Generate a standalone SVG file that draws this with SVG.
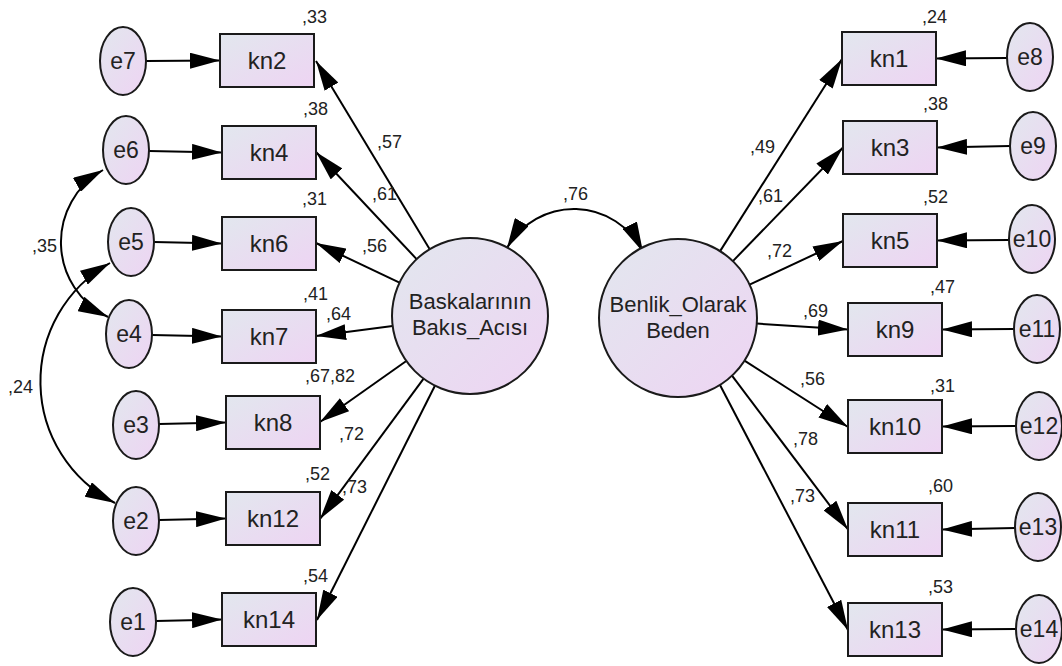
<svg xmlns="http://www.w3.org/2000/svg" width="1062" height="666" viewBox="0 0 1062 666">
<defs>
<linearGradient id="g" x1="0" y1="0" x2="1" y2="1">
<stop offset="0" stop-color="#e2e7ee"/>
<stop offset="1" stop-color="#eed4f3"/>
</linearGradient>
<marker id="ah" markerUnits="userSpaceOnUse" markerWidth="30" markerHeight="16" refX="30" refY="8" orient="auto-start-reverse" viewBox="0 0 30 16">
<path d="M0,0 L30,8 L0,16 z" fill="#000"/>
</marker>
</defs>
<style>
.n rect, .n ellipse { fill: url(#g); stroke: #1a1a1a; stroke-width: 2; }
.t { font-family: "Liberation Sans", Arial, sans-serif; font-size: 24px; fill: #222; text-anchor: middle; }
.te { font-family: "Liberation Sans", Arial, sans-serif; font-size: 23px; fill: #222; text-anchor: middle; }
.tl { font-family: "Liberation Sans", Arial, sans-serif; font-size: 22px; fill: #222; text-anchor: middle; }
.lab { font-family: "Liberation Sans", Arial, sans-serif; font-size: 18px; fill: #222; }
#connectors line, #connectors path { stroke: #000; stroke-width: 2; fill: none; marker-end: url(#ah); }
#connectors path.both { marker-start: url(#ah); }
</style>
<rect width="1062" height="666" fill="#fff"/>

<g id="connectors">
<!-- left error arrows -->
<line x1="146" y1="61" x2="220" y2="60.5"/>
<line x1="149" y1="151" x2="222" y2="152.5"/>
<line x1="154" y1="242" x2="222" y2="243.5"/>
<line x1="152" y1="335" x2="222" y2="336.5"/>
<line x1="159" y1="424" x2="226" y2="422.5"/>
<line x1="159" y1="520" x2="226" y2="518.5"/>
<line x1="156" y1="621" x2="222" y2="619.5"/>
<!-- left loadings -->
<line x1="429.7" y1="249.2" x2="316" y2="61"/>
<line x1="416.6" y1="259.1" x2="316" y2="152"/>
<line x1="399.5" y1="282.6" x2="316" y2="243"/>
<line x1="392.6" y1="326" x2="316" y2="336"/>
<line x1="406.3" y1="361" x2="320" y2="422"/>
<line x1="423.6" y1="378.7" x2="320" y2="519"/>
<line x1="434.9" y1="385.7" x2="317" y2="620"/>
<!-- right loadings -->
<line x1="720.1" y1="251.1" x2="842" y2="59"/>
<line x1="732.9" y1="261.1" x2="843" y2="147.5"/>
<line x1="749.6" y1="284.6" x2="843" y2="241"/>
<line x1="756.8" y1="323.6" x2="848" y2="329.5"/>
<line x1="744.5" y1="360.6" x2="848" y2="427"/>
<line x1="732" y1="375.7" x2="848" y2="529.5"/>
<line x1="720" y1="385" x2="848" y2="630"/>
<!-- right error arrows -->
<line x1="1007" y1="58" x2="936" y2="58.5"/>
<line x1="1010" y1="146" x2="937" y2="147.5"/>
<line x1="1009" y1="240" x2="937" y2="240.5"/>
<line x1="1014" y1="329" x2="942" y2="329.5"/>
<line x1="1016" y1="426" x2="942" y2="426.5"/>
<line x1="1015" y1="528" x2="942" y2="529.5"/>
<line x1="1016" y1="629" x2="942" y2="629.5"/>
<!-- covariances -->
<path class="both" d="M 103 170 A 83 83 0 0 0 108 317"/>
<path class="both" d="M 110 263 A 136 136 0 0 0 115 503"/>
<path class="both" d="M 507 248 A 77 77 0 0 1 643 252"/>
</g>

<g id="Baskalarinin" class="n"><ellipse cx="470" cy="316" rx="78" ry="78"/><text class="tl" x="470" y="309">Baskalarının</text><text class="tl" x="470" y="335">Bakıs_Acısı</text></g>
<g id="Benlik" class="n"><ellipse cx="678" cy="318" rx="79" ry="79"/><text class="tl" x="678" y="312">Benlik_Olarak</text><text class="tl" x="678" y="338">Beden</text></g>

<g id="kn2" class="n"><rect x="220" y="34" width="94" height="53"/><text class="t" x="267" y="69">kn2</text></g>
<g id="kn4" class="n"><rect x="222" y="126" width="94" height="53"/><text class="t" x="269" y="161">kn4</text></g>
<g id="kn6" class="n"><rect x="222" y="217" width="94" height="53"/><text class="t" x="269" y="252">kn6</text></g>
<g id="kn7" class="n"><rect x="222" y="310" width="94" height="53"/><text class="t" x="269" y="345">kn7</text></g>
<g id="kn8" class="n"><rect x="226" y="396" width="94" height="53"/><text class="t" x="273" y="431">kn8</text></g>
<g id="kn12" class="n"><rect x="226" y="492" width="94" height="53"/><text class="t" x="273" y="527">kn12</text></g>
<g id="kn14" class="n"><rect x="222" y="593" width="94" height="53"/><text class="t" x="269" y="628">kn14</text></g>

<g id="kn1" class="n"><rect x="842" y="32" width="94" height="53"/><text class="t" x="889" y="67">kn1</text></g>
<g id="kn3" class="n"><rect x="843" y="121" width="94" height="53"/><text class="t" x="890" y="156">kn3</text></g>
<g id="kn5" class="n"><rect x="843" y="214" width="94" height="53"/><text class="t" x="890" y="249">kn5</text></g>
<g id="kn9" class="n"><rect x="848" y="303" width="94" height="53"/><text class="t" x="895" y="338">kn9</text></g>
<g id="kn10" class="n"><rect x="848" y="400" width="94" height="53"/><text class="t" x="895" y="435">kn10</text></g>
<g id="kn11" class="n"><rect x="848" y="503" width="94" height="53"/><text class="t" x="895" y="538">kn11</text></g>
<g id="kn13" class="n"><rect x="848" y="603" width="94" height="53"/><text class="t" x="895" y="638">kn13</text></g>

<g id="e7" class="n"><ellipse cx="123" cy="61" rx="23" ry="34"/><text class="te" x="123" y="69">e7</text></g>
<g id="e6" class="n"><ellipse cx="126" cy="150" rx="23" ry="34"/><text class="te" x="126" y="158">e6</text></g>
<g id="e5" class="n"><ellipse cx="131" cy="242" rx="23" ry="34"/><text class="te" x="131" y="250">e5</text></g>
<g id="e4" class="n"><ellipse cx="129" cy="334" rx="23" ry="34"/><text class="te" x="129" y="342">e4</text></g>
<g id="e3" class="n"><ellipse cx="136" cy="425" rx="23" ry="34"/><text class="te" x="136" y="433">e3</text></g>
<g id="e2" class="n"><ellipse cx="136" cy="521" rx="23" ry="34"/><text class="te" x="136" y="529">e2</text></g>
<g id="e1" class="n"><ellipse cx="133" cy="622" rx="23" ry="34"/><text class="te" x="133" y="630">e1</text></g>

<g id="e8" class="n"><ellipse cx="1030" cy="57" rx="23" ry="34"/><text class="te" x="1030" y="65">e8</text></g>
<g id="e9" class="n"><ellipse cx="1033" cy="146" rx="23" ry="34"/><text class="te" x="1033" y="154">e9</text></g>
<g id="e10" class="n"><ellipse cx="1032" cy="239" rx="23" ry="34"/><text class="te" x="1032" y="247">e10</text></g>
<g id="e11" class="n"><ellipse cx="1037" cy="329" rx="23" ry="34"/><text class="te" x="1037" y="337">e11</text></g>
<g id="e12" class="n"><ellipse cx="1039" cy="426" rx="23" ry="34"/><text class="te" x="1039" y="434">e12</text></g>
<g id="e13" class="n"><ellipse cx="1038" cy="527" rx="23" ry="34"/><text class="te" x="1038" y="535">e13</text></g>
<g id="e14" class="n"><ellipse cx="1039" cy="629" rx="23" ry="34"/><text class="te" x="1039" y="637">e14</text></g>

<g id="labels">
<text class="lab" x="302" y="23">,33</text>
<text class="lab" x="303" y="115">,38</text>
<text class="lab" x="302" y="205">,31</text>
<text class="lab" x="303" y="300">,41</text>
<text class="lab" x="305" y="382">,67,82</text>
<text class="lab" x="305" y="480">,52</text>
<text class="lab" x="303" y="582">,54</text>
<text class="lab" x="377" y="148">,57</text>
<text class="lab" x="372" y="200">,61</text>
<text class="lab" x="362" y="252">,56</text>
<text class="lab" x="326" y="320">,64</text>
<text class="lab" x="339" y="440">,72</text>
<text class="lab" x="342" y="493">,73</text>
<text class="lab" x="32" y="252">,35</text>
<text class="lab" x="8" y="393">,24</text>
<text class="lab" x="563" y="200">,76</text>
<text class="lab" x="922" y="23">,24</text>
<text class="lab" x="923" y="110">,38</text>
<text class="lab" x="923" y="203">,52</text>
<text class="lab" x="930" y="293">,47</text>
<text class="lab" x="930" y="392">,31</text>
<text class="lab" x="928" y="492">,60</text>
<text class="lab" x="928" y="593">,53</text>
<text class="lab" x="750" y="153">,49</text>
<text class="lab" x="758" y="202">,61</text>
<text class="lab" x="767" y="257">,72</text>
<text class="lab" x="803" y="317">,69</text>
<text class="lab" x="800" y="385">,56</text>
<text class="lab" x="793" y="445">,78</text>
<text class="lab" x="790" y="502">,73</text>
</g>
</svg>
